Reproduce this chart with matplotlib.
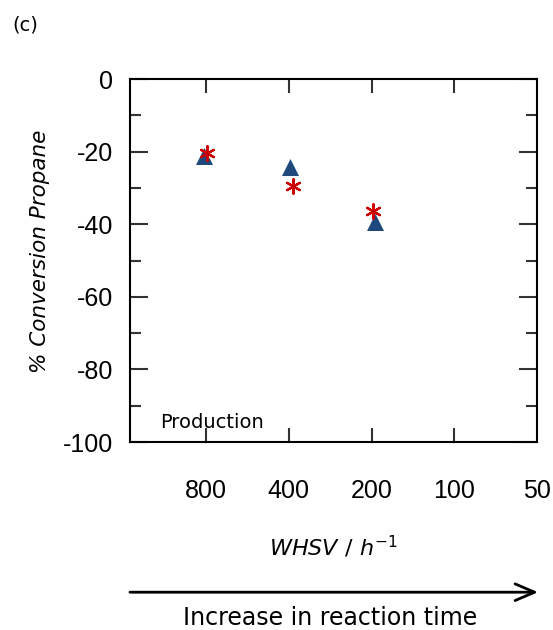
import matplotlib.pyplot as plt
from matplotlib.ticker import MultipleLocator

# WHSV categories (h^-1), plotted at positions 1..5
whsv_labels = ['800', '400', '200', '100', '50']
whsv_pos = [1, 2, 3, 4, 5]

# series
tri_x = [0.98, 2.01, 3.04]
tri_y = [-21.2, -24.2, -39.3]
star_x = [1.01, 2.05, 3.02]
star_y = [-20.5, -29.4, -36.4]

plt.rcParams['font.family'] = ['Liberation Sans', 'DejaVu Sans']
plt.rcParams['mathtext.fontset'] = 'dejavusans'
plt.rcParams['axes.unicode_minus'] = False

fig = plt.figure(figsize=(5.53, 6.30), dpi=100)
ax = fig.add_axes([0.235, 0.2984, 0.736, 0.5762])

ax.scatter(tri_x, tri_y, marker='^', s=150, color='#1f497d', zorder=3, linewidths=0)
ax.scatter(star_x, star_y, marker=(6, 2, 0), s=110, color='#cc0000', zorder=4, linewidths=1.6)

ax.set_xlim(0.08, 5.0)
ax.set_ylim(-100, 0)
ax.set_xticks([])
ax.yaxis.set_major_locator(MultipleLocator(20))
ax.yaxis.set_minor_locator(MultipleLocator(10))
ax.tick_params(axis='y', which='major', direction='in', length=13, width=1.5,
               color='#333333', left=True, right=True, labelsize=18, pad=12)
ax.tick_params(axis='y', which='minor', direction='in', length=8, width=1.5,
               color='#333333', left=True, right=True)
for lab in ax.get_yticklabels():
    lab.set_family('Liberation Sans')
for s in ax.spines.values():
    s.set_linewidth(1.5)

# x ticks on top and bottom, labels placed well below the axis
for p in whsv_pos[:4]:
    ax.plot([p, p], [0, -3.6], color='#333333', lw=1.5, clip_on=False)
    ax.plot([p, p], [-100, -96.4], color='#333333', lw=1.5, clip_on=False)
for p, lab in zip(whsv_pos, whsv_labels):
    ax.text(p, -113.5, lab, ha='center', va='center', fontsize=18,
            family='Liberation Sans')

ax.set_ylabel('% Conversion Propane', fontsize=15.5, style='italic',
              family='DejaVu Sans')
ax.yaxis.set_label_coords(-0.196, 0.526)
ax.text(0.5, -0.29, r'$WHSV\ /\ h^{-1}$', transform=ax.transAxes,
        ha='center', va='center', fontsize=16)
ax.text(0.45, -94.5, 'Production', fontsize=14, family='DejaVu Sans', va='center')

fig.text(0.022, 0.96, '(c)', fontsize=14, family='DejaVu Sans', va='center')
ax.annotate('', xy=(0.978, 0.06), xytext=(0.23, 0.06), xycoords='figure fraction',
            arrowprops=dict(arrowstyle='->,head_length=1.4,head_width=0.6', lw=2, color='black'))
fig.text(0.597, 0.019, 'Increase in reaction time', fontsize=17, family='DejaVu Sans',
         ha='center', va='center')

fig.savefig('out.png', dpi=100)
